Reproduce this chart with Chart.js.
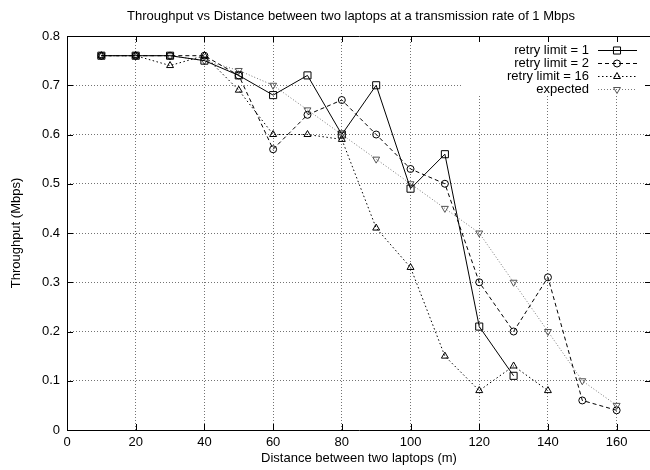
<!DOCTYPE html>
<html>
<head>
<meta charset="utf-8">
<script src="https://cdn.jsdelivr.net/npm/chart.js@4/dist/chart.umd.min.js"></script>
<style>
html,body{margin:0;padding:0;background:#fff;overflow:hidden;}
#wrap{position:absolute;left:0;top:0;width:660px;height:470px;}
</style>
</head>
<body>
<div id="wrap"><canvas id="c" width="660" height="470"></canvas></div>
<script>
const distances = [10,20,30,40,50,60,70,80,90,100,110,120,130,140,150,160];
const retry1   = [0.76,0.76,0.76,0.75,0.72,0.68,0.72,0.60,0.70,0.49,0.56,0.21,0.11,null,null,null];
const retry2   = [0.76,0.76,0.76,0.76,0.72,0.57,0.64,0.67,0.60,0.53,0.50,0.30,0.20,0.31,0.06,0.04];
const retry16  = [0.76,0.76,0.74,0.76,0.69,0.60,0.60,0.59,0.41,0.33,0.15,0.08,0.13,0.08,null,null];
const expected = [0.76,0.76,0.76,0.75,0.73,0.70,0.65,0.60,0.55,0.50,0.45,0.40,0.30,0.20,0.10,0.05];
const seriesNames = ['retry limit = 1','retry limit = 2','retry limit = 16','expected'];
const xTicks = [0,20,40,60,80,100,120,140,160];
const yTicks = [0,0.1,0.2,0.3,0.4,0.5,0.6,0.7,0.8];
const titleText = 'Throughput vs Distance between two laptops at a transmission rate of 1 Mbps';
const xTitle = 'Distance between two laptops (m)';
const yTitle = 'Throughput (Mbps)';

const FONT = '"Liberation Sans", Arial, Helvetica, sans-serif';

function pts(arr){
  const out = [];
  arr.forEach((v,i)=>{ if(v!==null) out.push({x:distances[i], y:v}); });
  return out;
}

const styles = [
  {color:'#000', dash:[], pointStyle:'rect', radius:5, rotation:0},
  {color:'#000', dash:[4,3], pointStyle:'circle', radius:3.5, rotation:0},
  {color:'#000', dash:[1.5,2.5], pointStyle:'triangle', radius:4, rotation:0},
  {color:'#777', dash:[1,2], pointStyle:'triangle', radius:4, rotation:180}
];
const series = [retry1, retry2, retry16, expected];

const datasets = series.map((arr,i)=>({
  label: seriesNames[i],
  data: pts(arr),
  borderColor: styles[i].color,
  backgroundColor: 'rgba(0,0,0,0)',
  borderWidth: 1,
  borderDash: styles[i].dash,
  pointStyle: styles[i].pointStyle,
  pointRadius: styles[i].radius,
  pointRotation: styles[i].rotation,
  pointBorderColor: i===3 ? '#555' : '#000',
  pointBackgroundColor: 'rgba(0,0,0,0)',
  pointBorderWidth: 1,
  tension: 0,
  fill: false
}));

const decor = {
  id:'decor',
  beforeDatasetsDraw(chart){
    const ctx = chart.ctx, a = chart.chartArea;
    ctx.save();
    ctx.fillStyle = '#fff';
    ctx.fillRect(463, a.top+1, 660-463, 94-a.top);
    ctx.strokeStyle = '#000';
    ctx.lineWidth = 1;
    ctx.beginPath();
    ctx.rect(a.left+0.5, a.top+0.5, a.right-a.left, a.bottom-a.top);
    ctx.stroke();
    const xs = chart.scales.x, ys = chart.scales.y;
    ctx.beginPath();
    xTicks.forEach(t=>{
      const px = Math.round(xs.getPixelForValue(t))+0.5;
      ctx.moveTo(px, a.bottom); ctx.lineTo(px, a.bottom-6);
      ctx.moveTo(px, a.top); ctx.lineTo(px, a.top+6);
    });
    yTicks.forEach(t=>{
      const py = Math.round(ys.getPixelForValue(t))+0.5;
      ctx.moveTo(a.left, py); ctx.lineTo(a.left+6, py);
      ctx.moveTo(a.right, py); ctx.lineTo(a.right-6, py);
    });
    ctx.stroke();
    ctx.restore();
  },
  afterDatasetsDraw(chart){
    const ctx = chart.ctx, a = chart.chartArea;
    ctx.save();
    ctx.fillStyle = '#000';
    ctx.font = '13px ' + FONT;
    ctx.textAlign = 'center';
    ctx.textBaseline = 'middle';
    ctx.fillText(titleText, 351, 16);
    ctx.fillText(xTitle, (a.left + a.right)/2, 458);
    ctx.save();
    ctx.translate(16, (a.top + a.bottom)/2);
    ctx.rotate(-Math.PI/2);
    ctx.fillText(yTitle, 0, 0);
    ctx.restore();
    const rows = [50, 63, 76, 89];
    seriesNames.forEach((name,i)=>{
      const y = rows[i];
      ctx.font = '13px ' + FONT;
      ctx.textAlign = 'right';
      ctx.fillStyle = '#000';
      ctx.fillText(name, 589, y);
      ctx.save();
      ctx.strokeStyle = styles[i].color;
      ctx.lineWidth = 1;
      ctx.setLineDash(styles[i].dash);
      ctx.beginPath();
      ctx.moveTo(598, y+0.5); ctx.lineTo(637, y+0.5);
      ctx.stroke();
      ctx.setLineDash([]);
      ctx.strokeStyle = i===3 ? '#555' : '#000';
      ctx.fillStyle = 'rgba(0,0,0,0)';
      Chart.helpers.drawPoint(ctx, {pointStyle: styles[i].pointStyle, radius: styles[i].radius, rotation: styles[i].rotation, borderWidth:1}, 617, y+0.5);
      ctx.restore();
    });
    ctx.restore();
  }
};

new Chart(document.getElementById('c'), {
  type: 'line',
  data: { datasets },
  options: {
    responsive: false,
    animation: false,
    devicePixelRatio: 1,
    layout: { padding: { left: 0, top: 36, right: 9, bottom: 0 } },
    plugins: { legend: { display: false }, title: { display: false }, tooltip: { enabled: false } },
    scales: {
      x: {
        type: 'linear', min: 0, max: 170,
        afterFit(s){ s.height = 40; },
        afterBuildTicks(s){ s.ticks = xTicks.map(v=>({value:v})); },
        ticks: { padding: 5, color: '#000', font: { family: FONT, size: 13 }, maxRotation: 0, autoSkip: false },
        grid: { color: 'rgba(0,0,0,0.55)', drawTicks: false, lineWidth: 1 },
        border: { display: false, dash: [1,2] }
      },
      y: {
        type: 'linear', min: 0, max: 0.8,
        afterFit(s){ s.width = 67; },
        afterBuildTicks(s){ s.ticks = yTicks.map(v=>({value:v})); },
        ticks: { padding: 7, color: '#000', font: { family: FONT, size: 13 }, callback: v => (Math.round(v*10)/10).toString() },
        grid: { color: 'rgba(0,0,0,0.55)', drawTicks: false, lineWidth: 1 },
        border: { display: false, dash: [1,2] }
      }
    }
  },
  plugins: [decor]
});
</script>
</body>
</html>
